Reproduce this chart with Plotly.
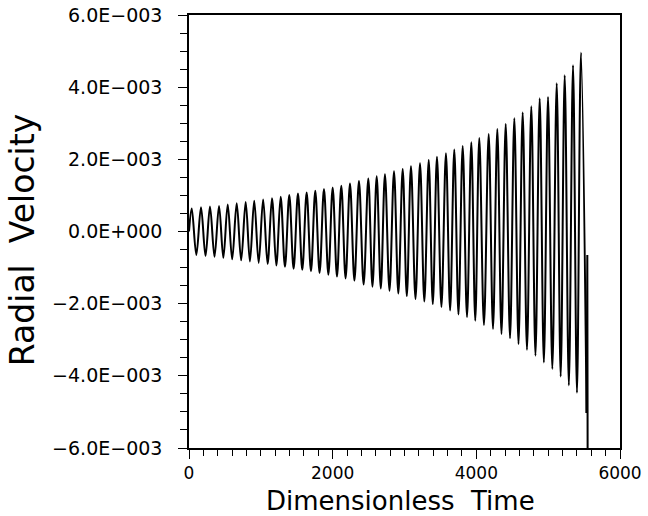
import plotly.graph_objects as go

# Oscillation extrema (time, radial velocity in units of 1E-3)
start_time = [0]
start_value = [0.0]

peak_time = [38, 167, 292, 418, 539, 664, 789, 908, 1032, 1155, 1276, 1396, 1517, 1638,
             1758, 1879, 2000, 2120, 2241, 2366, 2496, 2613, 2728, 2854, 2975, 3090, 3216,
             3337, 3452, 3577, 3693, 3810, 3930, 4041, 4172, 4292, 4409, 4529, 4645, 4765,
             4882, 4998, 5119, 5230, 5346, 5457]
peak_value = [0.64, 0.67, 0.69, 0.71, 0.75, 0.78, 0.82, 0.85, 0.89, 0.92, 0.96, 1.01, 1.05,
              1.08, 1.13, 1.18, 1.22, 1.27, 1.33, 1.40, 1.47, 1.53, 1.59, 1.67, 1.73, 1.81,
              1.89, 1.98, 2.07, 2.17, 2.27, 2.37, 2.47, 2.59, 2.70, 2.84, 2.98, 3.14, 3.30,
              3.47, 3.69, 3.73, 4.11, 4.33, 4.61, 4.96]

trough_time = [102, 230, 355, 478, 601, 726, 848, 970, 1094, 1215, 1336, 1456, 1577, 1698,
               1818, 1940, 2060, 2180, 2303, 2431, 2554, 2670, 2791, 2914, 3032, 3153, 3276,
               3394, 3514, 3635, 3751, 3870, 3985, 4106, 4232, 4350, 4469, 4587, 4705, 4823,
               4940, 5058, 5174, 5288, 5401, 5535]
trough_value = [-0.65, -0.68, -0.70, -0.73, -0.77, -0.80, -0.83, -0.87, -0.90, -0.94, -0.98,
                -1.03, -1.06, -1.10, -1.15, -1.20, -1.25, -1.30, -1.36, -1.47, -1.53, -1.58,
                -1.64, -1.72, -1.79, -1.87, -1.94, -2.01, -2.09, -2.19, -2.30, -2.37, -2.47,
                -2.59, -2.70, -2.84, -2.96, -3.12, -3.28, -3.44, -3.63, -3.81, -4.02, -4.26,
                -4.47, -5.03]

# final collapse after the last trough
collapse_time = [5535, 5545, 5550]
collapse_value = [-5.03, -0.65, -7.0]

y_tickvals = [-6, -4, -2, 0, 2, 4, 6]
y_ticktext = ["\u22126.0E\u2212003", "\u22124.0E\u2212003", "\u22122.0E\u2212003", "0.0E+000",
              "2.0E\u2212003", "4.0E\u2212003", "6.0E\u2212003"]
x_tickvals = [0, 2000, 4000, 6000]
x_ticktext = ["0", "2000", "4000", "6000"]
x_title = "Dimensionless  Time"
y_title = "Radial  Velocity"

pts = list(zip(start_time, start_value)) + list(zip(peak_time, peak_value)) + list(zip(trough_time, trough_value))
pts.sort()
t_main = [p[0] for p in pts]
v_main = [p[1] * 1e-3 for p in pts]

fig = go.Figure()
fig.add_trace(go.Scatter(x=t_main, y=v_main, mode="lines",
                         line=dict(color="black", width=2.0, shape="spline", smoothing=1.0),
                         showlegend=False))
fig.add_trace(go.Scatter(x=collapse_time, y=[v * 1e-3 for v in collapse_value], mode="lines",
                         line=dict(color="black", width=2.0), showlegend=False))

font_family = "DejaVu Sans"
fig.update_layout(
    width=648, height=516,
    margin=dict(l=189, r=28, t=15, b=68),
    paper_bgcolor="white", plot_bgcolor="white",
    font=dict(family=font_family, color="black"),
)
fig.update_xaxes(
    range=[0, 6000], showgrid=False, zeroline=False, automargin=False,
    showline=True, linecolor="black", linewidth=1.5, mirror=True,
    ticks="outside", ticklen=9, tickwidth=1, tickcolor="black",
    tickmode="array", tickvals=x_tickvals, ticktext=x_ticktext,
    tickfont=dict(size=17, family=font_family), ticklabelstandoff=0,
    minor=dict(tickmode="linear", tick0=0, dtick=200, ticks="outside", ticklen=6,
               tickwidth=1, tickcolor="black"),
)
fig.update_yaxes(
    range=[-0.006, 0.006], showgrid=False, zeroline=False, automargin=False,
    showline=True, linecolor="black", linewidth=1.5, mirror=True,
    ticks="outside", ticklen=9, tickwidth=1, tickcolor="black",
    tickmode="array", tickvals=[v * 1e-3 for v in y_tickvals], ticktext=y_ticktext,
    tickfont=dict(size=19, family=font_family), ticklabelstandoff=12,
    minor=dict(tickmode="linear", tick0=0, dtick=0.0005, ticks="outside", ticklen=7,
               tickwidth=1, tickcolor="black"),
)
fig.add_annotation(text=x_title, xref="paper", yref="paper", x=0.49, y=-0.1218,
                   xanchor="center", yanchor="middle", showarrow=False,
                   font=dict(size=26, family=font_family, color="black"))
fig.add_annotation(text=y_title, xref="paper", yref="paper", x=-0.3875, y=0.48,
                   xanchor="center", yanchor="middle", showarrow=False, textangle=-90,
                   font=dict(size=33, family=font_family, color="black"))

fig.write_html("out.html")
